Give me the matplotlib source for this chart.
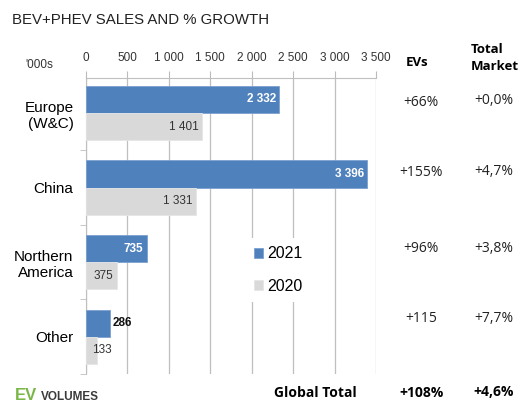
import numpy as np
import matplotlib.pyplot as plt

plt.rcParams['font.family'] = ['Liberation Sans', 'DejaVu Sans']

regions = ['Europe\n(W&C)', 'China', 'Northern\nAmerica', 'Other']
sales_2021 = [2332, 3396, 735, 286]
sales_2020 = [1401, 1331, 375, 133]
ev_growth = ['+66%', '+155%', '+96%', '+115']
market_growth = ['+0,0%', '+4,7%', '+3,8%', '+7,7%']
global_ev = '+108%'
global_market = '+4,6%'
xticks = [0, 500, 1000, 1500, 2000, 2500, 3000, 3500]

blue = '#4F81BD'
grey = '#D9D9D9'

fig = plt.figure(figsize=(5.27, 4.09), dpi=100)
ax = fig.add_axes([86 / 527, 1 - 374 / 409, 290 / 527, 296 / 409])

y = np.arange(len(regions))
h = 0.365
ax.barh(y - h / 2, sales_2021, height=h, color=blue, edgecolor='#7BA0D0', lw=0.6,
        label='2021', zorder=3)
ax.barh(y + h / 2, sales_2020, height=h, color=grey, edgecolor='#E6E6E6', lw=0.6,
        label='2020', zorder=3)

ax.set_xlim(0, 3500)
ax.set_ylim(3.5, -0.47)
ax.xaxis.tick_top()
ax.set_xticks(xticks)
ax.set_xticklabels([f'{v:,}'.replace(',', ' ') for v in xticks], fontsize=8.5, color='#333333')
ax.tick_params(axis='x', length=5, color='#BBBBBB', pad=5)
ax.grid(axis='x', color='#BFBFBF', lw=0.9, zorder=0)
for s in ['right', 'bottom']:
    ax.spines[s].set_visible(False)
ax.spines['top'].set_color('#BFBFBF')
ax.spines['left'].set_color('#BFBFBF')

ax.set_yticks(y)
ax.set_yticklabels(regions, fontsize=11)
ax.tick_params(axis='y', length=0, pad=9)
ax.set_yticks([0.5, 1.5, 2.5, 3.5], minor=True)
ax.tick_params(axis='y', which='minor', length=4, color='#BFBFBF')

# value labels
for i, v in enumerate(sales_2021):
    lab = f'{v:,}'.replace(',', ' ')
    if v > 500:
        ax.text(v - 40, i - h / 2, lab, ha='right', va='center', color='white',
                fontsize=8.5, fontweight='bold', zorder=4)
    else:
        ax.text(v + 30, i - h / 2, lab, ha='left', va='center', color='#111111',
                fontsize=8.5, fontweight='bold', zorder=4)
for i, v in enumerate(sales_2020):
    lab = f'{v:,}'.replace(',', ' ')
    if v > 300:
        ax.text(v - 40, i + h / 2, lab, ha='right', va='center', color='#333333',
                fontsize=8.5, zorder=4)
    else:
        ax.text(70, i + h / 2, lab, ha='left', va='center', color='#333333',
                fontsize=8.5, zorder=4)

leg = ax.legend(loc='upper left', bbox_to_anchor=(0.523, 0.485), frameon=True,
                fontsize=11.5, handlelength=0.6, handleheight=0.6, labelspacing=1.1,
                handletextpad=0.25, borderpad=0.5)
leg.get_frame().set_edgecolor('none')
leg.get_frame().set_facecolor('white')
leg.get_frame().set_alpha(1)
leg.set_zorder(5)

# titles and columns
fig.text(12 / 527, 1 - 20 / 409, 'BEV+PHEV SALES AND % GROWTH', fontsize=10.8,
         va='center', color='#222222')
fig.text(25 / 527, 1 - 65 / 409, "'000s", fontsize=8.5, va='center', color='#333333')
fig.text(417 / 527, 1 - 63 / 409, 'EVs', fontsize=9.5, fontweight='bold',
         ha='center', va='center', family=['Open Sans', 'DejaVu Sans'])
fig.text(471 / 527, 1 - 58 / 409, 'Total\nMarket', fontsize=9.5, fontweight='bold',
         ha='left', va='center', multialignment='left', linespacing=1.45,
         family=['Open Sans', 'DejaVu Sans'])

row_y = [102, 173, 249, 319]
for ry, e, m in zip(row_y, ev_growth, market_growth):
    fig.text(421 / 527, 1 - ry / 409, e, fontsize=10, ha='center', va='center',
             family=['Open Sans', 'DejaVu Sans'], color='#222222')
    fig.text(494 / 527, 1 - (ry - 1) / 409, m, fontsize=10, ha='center', va='center',
             family=['Open Sans', 'DejaVu Sans'], color='#222222')

fig.text(315 / 527, 1 - 393 / 409, 'Global Total', fontsize=10, fontweight='bold',
         ha='center', va='center', family=['Open Sans', 'DejaVu Sans'])
fig.text(421 / 527, 1 - 393 / 409, global_ev, fontsize=10, fontweight='bold',
         ha='center', va='center', family=['Open Sans', 'DejaVu Sans'])
fig.text(494 / 527, 1 - 392 / 409, global_market, fontsize=10, fontweight='bold',
         ha='center', va='center', family=['Open Sans', 'DejaVu Sans'])

fig.text(15 / 527, 1 - 396 / 409, 'EV', fontsize=12, fontweight='bold',
         color='#7AB648', va='center')
fig.text(41 / 527, 1 - 397 / 409, 'VOLUMES', fontsize=8.5, fontweight='bold',
         color='#3A3A3A', va='center')

fig.savefig('out.png', dpi=100)
